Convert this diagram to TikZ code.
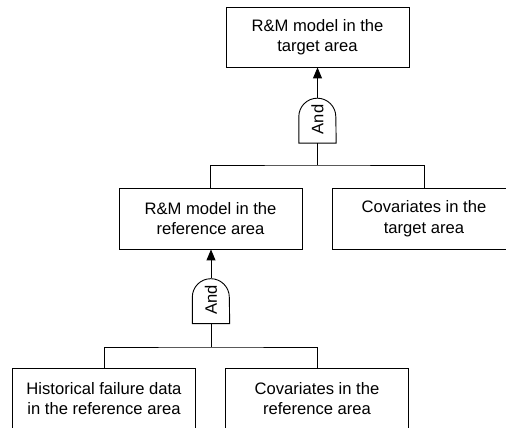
\documentclass[tikz,border=0pt]{standalone}
\usepackage{fontspec}
\setmainfont{Liberation Sans}
\usetikzlibrary{arrows.meta}
\begin{document}
\begin{tikzpicture}[x=1pt,y=1pt,
  evbox/.style={draw, line width=0.9pt, minimum width=183pt, minimum height=60pt, inner sep=0pt, align=center, font=\fontsize{16.6}{20.5}\selectfont},
  gatebox/.style={minimum width=37pt, minimum height=45pt, inner sep=0pt},
  conn/.style={line width=0.9pt},
  arr/.style={conn, -{Triangle[length=11pt,width=9pt]}}]
\useasboundingbox (0,0) rectangle (506,428);
\clip (0,0) rectangle (506,428);
% boxes
\node[evbox] (top) at (317.5,391) {R\&M model in the\\target area};
\node[evbox, minimum height=61pt] (mref) at (210.5,209.5) {R\&M model in the\\reference area};
\node[evbox, minimum height=61pt] (mtar) at (424,209.5) {Covariates in the\\target area};
\node[evbox, minimum height=61pt] (hist) at (104,29.5) {Historical failure data\\in the reference area};
\node[evbox, minimum height=61pt] (cref) at (317,29.5) {Covariates in the\\reference area};
% gates
\node[gatebox] (g1) at (317.5,307.5) {};
\node[gatebox] (g2) at (211,127) {};
\draw[conn] (g1.south west) -- ++(0,26.5) arc[start angle=180, end angle=0, radius=18.5] -- (g1.south east) -- cycle;
\draw[conn] (g2.south west) -- ++(0,26.5) arc[start angle=180, end angle=0, radius=18.5] -- (g2.south east) -- cycle;
\node[rotate=90, font=\fontsize{16.6}{20}\selectfont] at ([yshift=1pt]g1.center) {And};
\node[rotate=90, font=\fontsize{16.6}{20}\selectfont] at ([yshift=1pt]g2.center) {And};
% connectors
\draw[arr] (g1.north) -- (top.south);
\coordinate (b1) at (g1.south |- 0,263);
\draw[conn] (g1.south) -- (b1);
\draw[conn] (mref.north) |- (b1) -| (mtar.north);
\draw[arr] (g2.north) -- (mref.south -| g2.north);
\coordinate (b2) at (g2.south |- 0,81);
\draw[conn] (g2.south) -- (b2);
\draw[conn] (hist.north) |- (b2) -| (cref.north);
\end{tikzpicture}
\end{document}
